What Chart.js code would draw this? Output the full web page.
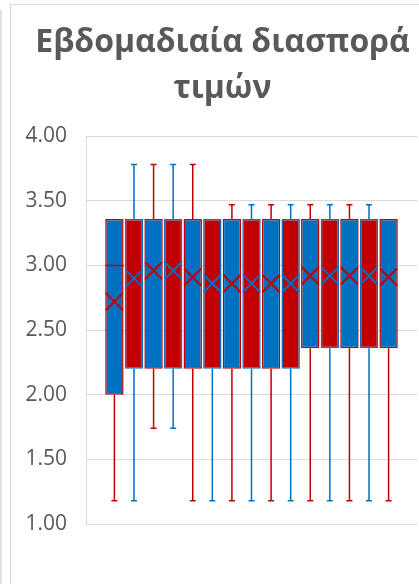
<!DOCTYPE html>
<html>
<head>
<meta charset="utf-8">
<script src="https://cdn.jsdelivr.net/npm/chart.js@4.4.0/dist/chart.umd.min.js"></script>
<style>
    html, body { margin: 0; padding: 0; background: #ffffff; overflow: hidden; width: 419px; height: 584px; }
    .neighbour { position: absolute; left: -100px; top: 10px; width: 100px; height: 700px; border-right: 2px solid #e0e0e0; }
    .card { position: absolute; left: 10px; top: 4px; width: 500px; height: 700px; border: 1px solid #d9d9d9; background: #fff; }
    .chart-box { position: absolute; left: 0; top: 0; width: 420px; height: 600px; }
</style>
</head>
<body>
<div class="neighbour"></div>
<div class="card">
    <div class="chart-box"><canvas id="boxChart"></canvas></div>
</div>
<script>
// Εβδομάδες (μία "σειρά" ανά εβδομάδα)
const weeks = ['Εβδ. 1', 'Εβδ. 2', 'Εβδ. 3', 'Εβδ. 4', 'Εβδ. 5', 'Εβδ. 6', 'Εβδ. 7', 'Εβδ. 8',
               'Εβδ. 9', 'Εβδ. 10', 'Εβδ. 11', 'Εβδ. 12', 'Εβδ. 13', 'Εβδ. 14', 'Εβδ. 15'];

// Στατιστικά κουτιών
const whiskerMin = [1.18, 1.18, 1.74, 1.74, 1.18, 1.18, 1.18, 1.18, 1.18, 1.18, 1.18, 1.18, 1.18, 1.18, 1.18];
const quartile1  = [2.00, 2.20, 2.20, 2.20, 2.20, 2.20, 2.20, 2.20, 2.20, 2.20, 2.36, 2.36, 2.36, 2.36, 2.36];
const medianVal  = [3.00, 3.36, 3.36, 3.36, 3.36, 3.36, 3.36, 3.36, 3.36, 3.36, 3.36, 3.36, 3.36, 3.36, 3.36];
const quartile3  = [3.36, 3.36, 3.36, 3.36, 3.36, 3.36, 3.36, 3.36, 3.36, 3.36, 3.36, 3.36, 3.36, 3.36, 3.36];
const whiskerMax = [3.36, 3.78, 3.78, 3.78, 3.78, 3.36, 3.47, 3.47, 3.47, 3.47, 3.47, 3.47, 3.47, 3.47, 3.36];
const meanVal    = [2.72, 2.90, 2.96, 2.96, 2.91, 2.86, 2.86, 2.86, 2.86, 2.86, 2.92, 2.92, 2.92, 2.92, 2.91];

// Άξονας Y
const yTicks = [1.00, 1.50, 2.00, 2.50, 3.00, 3.50, 4.00];

const BLUE = '#0070C0';
const RED = '#C00000';
const fillColors = weeks.map((w, i) => i % 2 === 0 ? BLUE : RED);
const lineColors = weeks.map((w, i) => i % 2 === 0 ? RED : BLUE);

// Μουστάκια και διάμεσος
const whiskerPlugin = {
    id: 'whiskers',
    beforeDatasetsDraw(chart) {
        const ctx = chart.ctx;
        const y = chart.scales.y;
        const meta = chart.getDatasetMeta(1);
        ctx.save();
        ctx.lineWidth = 1.5;
        meta.data.forEach((bar, i) => {
            const cx = bar.x;
            ctx.strokeStyle = lineColors[i];
            const segs = [];
            if (whiskerMax[i] > quartile3[i]) segs.push([quartile3[i], whiskerMax[i]]);
            if (whiskerMin[i] < quartile1[i]) segs.push([quartile1[i], whiskerMin[i]]);
            segs.forEach(s => {
                const y0 = y.getPixelForValue(s[0]);
                const y1 = y.getPixelForValue(s[1]);
                ctx.beginPath();
                ctx.moveTo(cx, y0);
                ctx.lineTo(cx, y1);
                ctx.moveTo(cx - 3, y1);
                ctx.lineTo(cx + 3, y1);
                ctx.stroke();
            });
        });
        ctx.restore();
    },
    afterDatasetsDraw(chart) {
        const ctx = chart.ctx;
        const y = chart.scales.y;
        const meta = chart.getDatasetMeta(1);
        ctx.save();
        ctx.lineWidth = 1.5;
        meta.data.forEach((bar, i) => {
            if (medianVal[i] <= quartile1[i] || medianVal[i] >= quartile3[i]) return;
            const py = y.getPixelForValue(medianVal[i]);
            ctx.strokeStyle = lineColors[i];
            ctx.beginPath();
            ctx.moveTo(bar.x - bar.width / 2, py);
            ctx.lineTo(bar.x + bar.width / 2, py);
            ctx.stroke();
        });
        ctx.restore();
    }
};

const ctx = document.getElementById('boxChart').getContext('2d');
new Chart(ctx, {
    type: 'bar',
    data: {
        labels: weeks,
        datasets: [
            {
                type: 'scatter',
                label: 'Μέσος όρος',
                data: weeks.map((w, i) => ({ x: i + 1, y: meanVal[i] })),
                pointStyle: 'crossRot',
                pointRadius: 12,
                pointBorderWidth: 2,
                pointBorderColor: lineColors,
                showLine: false,
                order: 0
            },
            {
                label: 'Τιμές',
                data: weeks.map((w, i) => ({ x: i + 1, y: [quartile1[i], quartile3[i]] })),
                backgroundColor: fillColors,
                borderColor: lineColors,
                borderWidth: 1.5,
                borderSkipped: false,
                categoryPercentage: 1,
                barPercentage: 0.94,
                order: 1
            }
        ]
    },
    options: {
        responsive: true,
        maintainAspectRatio: false,
        animation: false,
        layout: { padding: { left: 15, right: 12, top: 0, bottom: 81 } },
        plugins: {
            legend: { display: false },
            tooltip: { enabled: false },
            title: {
                display: true,
                text: ['Εβδομαδιαία διασπορά', 'τιμών'],
                color: '#595959',
                font: { family: 'Open Sans', size: 32, weight: 'bold', lineHeight: 1.44 },
                padding: { top: 15, bottom: 24 }
            }
        },
        scales: {
            x: {
                type: 'linear',
                min: -0.45,
                max: 16.45,
                offset: false,
                display: false
            },
            y: {
                min: 1,
                max: 4,
                afterBuildTicks: function(axis) {
                    axis.ticks = yTicks.map(v => ({ value: v }));
                },
                afterFit: function(axis) {
                    axis.width = 60;
                },
                ticks: {
                    padding: 19,
                    color: '#595959',
                    font: { family: 'Open Sans', size: 21 },
                    callback: function(value) { return Number(value).toFixed(2); }
                },
                grid: { color: '#d9d9d9', lineWidth: 1, drawTicks: false },
                border: { display: true, color: '#d9d9d9' }
            }
        }
    },
    plugins: [whiskerPlugin]
});
</script>
</body>
</html>
